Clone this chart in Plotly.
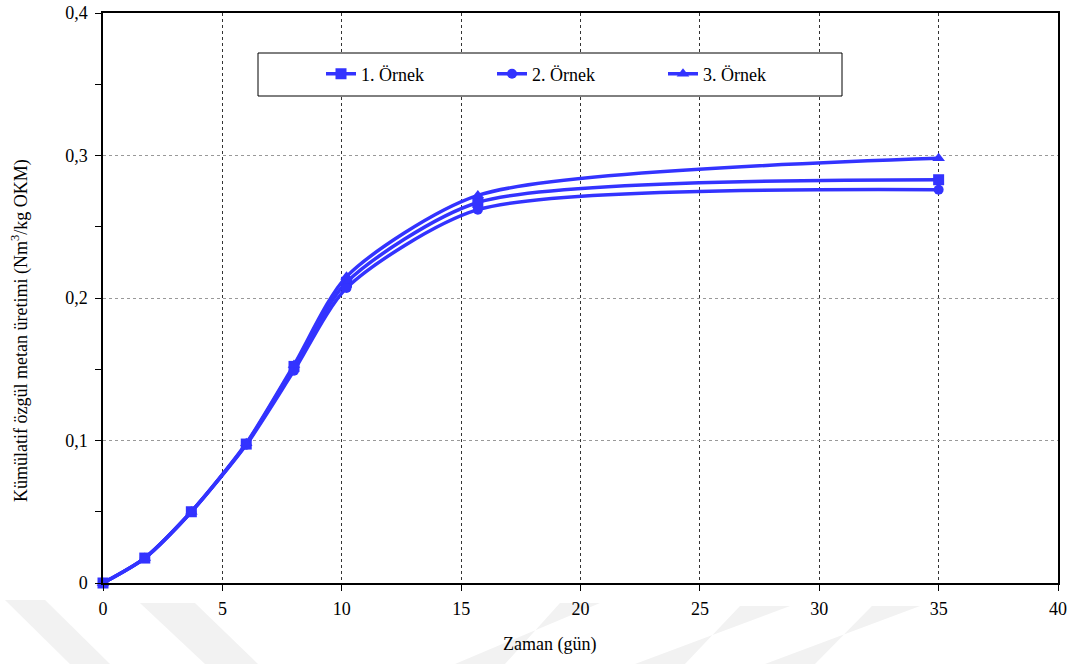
import plotly.graph_objects as go

# Sampling days
gun = [0, 1.75, 3.7, 6, 8, 10.2, 15.7, 35]

# Cumulative specific methane yield (Nm3/kg OKM)
ornek_1 = [0, 0.0175, 0.050, 0.0975, 0.152, 0.211, 0.267, 0.283]
ornek_2 = [0, 0.0175, 0.050, 0.0970, 0.149, 0.207, 0.262, 0.276]
ornek_3 = [0, 0.0175, 0.050, 0.0980, 0.153, 0.215, 0.272, 0.298]

series_names = ["1. Örnek", "2. Örnek", "3. Örnek"]
series_symbols = ["square", "circle", "triangle-up"]
series_sizes = [11, 10, 11]

x_ticks = [0, 5, 10, 15, 20, 25, 30, 35, 40]
x_ticktext = ["0", "5", "10", "15", "20", "25", "30", "35", "40"]
y_ticks = [0, 0.1, 0.2, 0.3, 0.4]
y_ticktext = ["0", "0,1", "0,2", "0,3", "0,4"]

BLUE = "#3333FF"
FONT = "'Liberation Serif', 'DejaVu Serif', serif"
FS = 18

fig = go.Figure()
for name, ys, sym, sz in zip(series_names, [ornek_1, ornek_2, ornek_3],
                             series_symbols, series_sizes):
    fig.add_trace(go.Scatter(
        x=gun, y=ys, name=name, mode="lines+markers",
        line=dict(color=BLUE, width=3.5, shape="spline", smoothing=0.7),
        marker=dict(symbol=sym, size=sz, color=BLUE),
        cliponaxis=False,
    ))

W, H = 1076, 664
L, R, T, B = 103, 18, 13, 81
pw, ph = W - L - R, H - T - B


def px(x):
    return (x - L) / pw


def py(y):
    return (H - B - y) / ph


shapes = []
# faint chevron watermark along the bottom edge
wm = [
    [(5, 600), (45, 600), (110, 664), (70, 664)],
    [(140, 603), (195, 603), (258, 664), (205, 664)],
    [(600, 603), (560, 603), (505, 664), (455, 664)],
    [(790, 606), (740, 606), (685, 664), (635, 664)],
    [(920, 606), (872, 606), (815, 664), (765, 664)],
]
for poly in wm:
    path = "M " + " L ".join(f"{px(a):.4f},{py(b):.4f}" for a, b in poly) + " Z"
    shapes.append(dict(type="path", xref="paper", yref="paper", path=path,
                       fillcolor="#f2f2f2", line=dict(width=0), layer="below"))

# legend frame
shapes.append(dict(type="rect", xref="paper", yref="paper",
                   x0=px(258), x1=px(842), y0=py(96), y1=py(53),
                   fillcolor="white", line=dict(color="black", width=1),
                   layer="above"))

fig.update_layout(
    width=W, height=H,
    margin=dict(l=L, r=R, t=T, b=B, autoexpand=False),
    paper_bgcolor="white", plot_bgcolor="white",
    font=dict(family=FONT, size=FS, color="black"),
    showlegend=True,
    legend=dict(orientation="h", x=px(321), y=py(74), xanchor="left",
                yanchor="middle", bgcolor="rgba(0,0,0,0)",
                font=dict(family=FONT, size=FS, color="black"),
                entrywidth=126, entrywidthmode="pixels",
                itemwidth=30, tracegroupgap=0),
    shapes=shapes,
    annotations=[
        dict(text="Zaman (gün)", xref="paper", yref="paper",
             x=px(549), y=py(644), xanchor="center", yanchor="middle",
             showarrow=False,
             font=dict(family=FONT, size=FS, color="black")),
        dict(text="Kümülatif özgül metan üretimi (Nm<sup>3</sup>/kg OKM)",
             xref="paper", yref="paper", x=px(20), y=py(331),
             xanchor="center", yanchor="middle",
             textangle=-90, showarrow=False,
             font=dict(family=FONT, size=FS, color="black")),
    ],
)

fig.update_xaxes(
    range=[0, 40], tickvals=x_ticks, ticktext=x_ticktext,
    tickfont=dict(family=FONT, size=FS, color="black"),
    showline=True, linecolor="black", linewidth=1.5, mirror=True,
    ticks="outside", ticklen=6, tickcolor="black",
    showgrid=True, gridcolor="#333333", griddash="dot", gridwidth=1,
    zeroline=False, ticklabelstandoff=3, automargin=False,
)
fig.update_yaxes(
    range=[0, 0.4], tickvals=y_ticks, ticktext=y_ticktext,
    tickfont=dict(family=FONT, size=FS, color="black"),
    showline=True, linecolor="black", linewidth=1.5, mirror=True,
    ticks="outside", ticklen=6, tickcolor="black",
    minor=dict(tickvals=[0.05, 0.15, 0.25, 0.35], ticks="outside",
               ticklen=6, tickcolor="black", showgrid=False),
    showgrid=True, gridcolor="#999999", griddash="dot", gridwidth=1,
    zeroline=False, ticklabelstandoff=4, automargin=False,
)

fig.write_html("out.html")
